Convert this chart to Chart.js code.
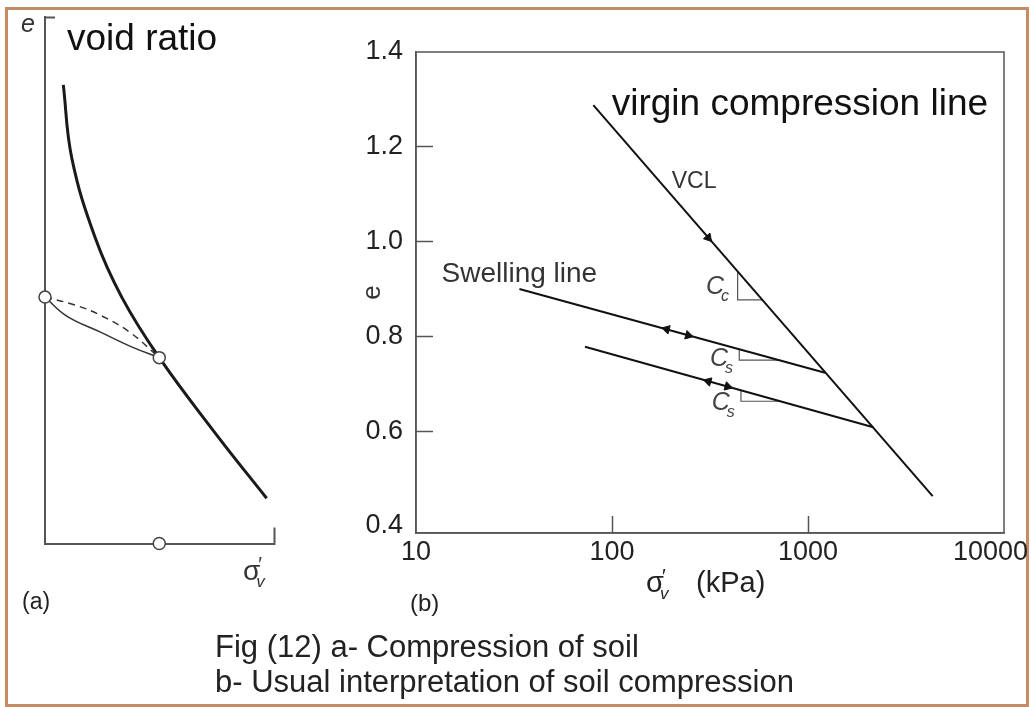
<!DOCTYPE html>
<html>
<head>
<meta charset="utf-8">
<title>Compression of soil</title>
<script src="https://cdn.jsdelivr.net/npm/chart.js@4.4.1/dist/chart.umd.min.js"></script>
<style>
  html, body { margin: 0; padding: 0; background: #fff; overflow: hidden; }
  body { width: 1031px; height: 707px; position: relative; font-family: "Liberation Sans", Arial, sans-serif; }
  #frame { position: absolute; left: 5px; top: 7px; width: 1024px; height: 700px; box-sizing: border-box; border: 3px solid #c48b65; }
  canvas { position: absolute; top: 0; }
  #chartA { left: 0; }
  #chartB { left: 330px; }
  .txt { position: absolute; white-space: nowrap; line-height: 1; color: #222; }
</style>
</head>
<body>
<div id="frame"></div>
<canvas id="chartA" width="330" height="707"></canvas>
<canvas id="chartB" width="701" height="707"></canvas>
<div class="txt" style="left:22px; top:590px; font-size:23px;">(a)</div>
<div class="txt" style="left:410px; top:591px; font-size:24px;">(b)</div>
<div class="txt" style="left:215px; top:631px; font-size:31px;">Fig (12) a- Compression of soil</div>
<div class="txt" style="left:215px; top:666px; font-size:31px;">b- Usual interpretation of soil compression</div>
<script>
// (a) schematic e - sigma'v, arbitrary units 0..1
const curveX = [0.080, 0.117, 0.218, 0.335, 0.499, 0.750, 0.968];
const curveY = [0.871, 0.732, 0.582, 0.468, 0.353, 0.206, 0.086];
const dashX = [0, 0.131, 0.240, 0.371, 0.499];
const dashY = [0.468, 0.453, 0.434, 0.401, 0.353];
const unloadX = [0, 0.095, 0.240, 0.386, 0.499];
const unloadY = [0.468, 0.432, 0.402, 0.372, 0.353];
const circleX = [0, 0.499, 0.499];
const circleY = [0.468, 0.353, 0];

// (b) e - log sigma'v (kPa)
const xTicks = [10, 100, 1000, 10000];
const yTicks = [0.4, 0.6, 0.8, 1.0, 1.2, 1.4];
const vclX = [80.3, 4325];
const vclY = [1.288, 0.463];
const swell1X = [33.7, 1221];
const swell1Y = [0.900, 0.723];
const swell2X = [72.8, 2154];
const swell2Y = [0.778, 0.608];
const arrowX = [310, 190, 245, 310, 389];
const arrowY = [1.008, 0.815, 0.802, 0.705, 0.694];
const arrowRot = [139, 285, 105, 286, 106];
const ccTriX = [437.5, 437.5, 585];
const ccTriY = [0.937, 0.877, 0.877];
const cs1TriX = [446, 446, 706];
const cs1TriY = [0.773, 0.750, 0.750];
const cs2TriX = [455, 455, 719];
const cs2TriY = [0.686, 0.663, 0.663];

const FAMILY = "'Liberation Sans', Arial, sans-serif";
Chart.defaults.font.family = FAMILY;
Chart.defaults.color = "#222";

const pts = (xs, ys) => xs.map((x, i) => ({ x, y: ys[i] }));
const hidden = "rgba(0,0,0,0)";

function sigmaV(ctx, x, y, size){
  ctx.font = size + "px " + FAMILY;
  ctx.fillText("σ", x, y);
  const w = ctx.measureText("σ").width;
  ctx.font = Math.round(size * 0.7) + "px " + FAMILY;
  ctx.fillText("′", x + w - 2, y - size * 0.32);
  ctx.font = "italic " + Math.round(size * 0.6) + "px " + FAMILY;
  ctx.fillText("v", x + w - 4, y + size * 0.25);
  return w;
}

function coef(ctx, sub, x, y){
  ctx.font = "italic 25px " + FAMILY;
  ctx.fillText("C", x, y);
  const w = ctx.measureText("C").width;
  ctx.font = "italic 16px " + FAMILY;
  ctx.fillText(sub, x + w - 3, y + 7);
}

const panelALabels = {
  id: "panelALabels",
  afterDraw(chart){
    const { ctx, chartArea: a } = chart;
    ctx.save();
    ctx.textBaseline = "alphabetic";
    ctx.fillStyle = "#333";
    ctx.font = "italic 25px " + FAMILY;
    ctx.fillText("e", a.left - 24, a.top + 15);
    ctx.fillStyle = "#111";
    ctx.font = "37px " + FAMILY;
    ctx.fillText("void ratio", a.left + 22, a.top + 33);
    ctx.fillStyle = "#333";
    sigmaV(ctx, a.right - 31, a.bottom + 36, 28);
    ctx.restore();
  }
};

const curveSet = (xs, ys, width, dash) => ({
  data: pts(xs, ys), showLine: true, borderColor: width > 2 ? "#1a1a1a" : "#333",
  borderWidth: width, borderDash: dash || [], pointRadius: 0, tension: 0.4,
});

new Chart(document.getElementById("chartA"), {
  type: "scatter",
  data: {
    datasets: [
      { data: pts(circleX, circleY), pointRadius: 6, pointBackgroundColor: "#fff", pointBorderColor: "#444", pointBorderWidth: 1.5, clip: false },
      curveSet(curveX, curveY, 3),
      curveSet(dashX, dashY, 1.5, [7, 5]),
      curveSet(unloadX, unloadY, 1.5),
    ]
  },
  options: {
    responsive: false,
    animation: false,
    devicePixelRatio: 1,
    events: [],
    layout: { padding: { left: 45, top: 17, right: 56, bottom: 163.5 } },
    plugins: { legend: { display: false }, tooltip: { enabled: false } },
    scales: {
      x: {
        type: "linear", min: 0, max: 1,
        afterBuildTicks: s => { s.ticks = [{ value: 1 }]; },
        afterFit: s => { s.height = 0; },
        ticks: { display: false },
        grid: { drawOnChartArea: false, tickLength: -16, tickColor: "#555", tickWidth: 2 },
        border: { color: "#555", width: 2 },
      },
      y: {
        type: "linear", min: 0, max: 1,
        afterBuildTicks: s => { s.ticks = [{ value: 1 }]; },
        afterFit: s => { s.width = 0; },
        ticks: { display: false },
        grid: { drawOnChartArea: false, tickLength: -10, tickColor: "#555", tickWidth: 2 },
        border: { color: "#555", width: 2 },
      },
    },
  },
  plugins: [panelALabels],
});

const panelBLabels = {
  id: "panelBLabels",
  afterDatasetsDraw(chart){
    const { ctx } = chart;
    const X = v => chart.scales.x.getPixelForValue(v);
    const Y = v => chart.scales.y.getPixelForValue(v);
    ctx.save();
    ctx.textBaseline = "alphabetic";
    ctx.fillStyle = "#111";
    ctx.font = "37px " + FAMILY;
    ctx.fillText("virgin compression line", X(99.7), Y(1.267));
    ctx.fillStyle = "#333";
    ctx.font = "23px " + FAMILY;
    ctx.fillText("VCL", X(201.7), Y(1.113));
    ctx.font = "28px " + FAMILY;
    ctx.fillText("Swelling line", X(13.5), Y(0.9145));
    ctx.fillStyle = "#444";
    coef(ctx, "c", X(301.8), Y(0.889));
    coef(ctx, "s", X(316), Y(0.737));
    coef(ctx, "s", X(322.6), Y(0.644));
    ctx.restore();
  },
  afterDraw(chart){
    const { ctx, chartArea: a } = chart;
    ctx.save();
    ctx.strokeStyle = "#555";
    ctx.lineWidth = 1.5;
    ctx.strokeRect(a.left, a.top, a.right - a.left, a.bottom - a.top);
    ctx.fillStyle = "#222";
    ctx.textBaseline = "alphabetic";
    const x0 = (a.left + a.right) / 2 - 64;
    sigmaV(ctx, x0, a.bottom + 59, 29);
    ctx.font = "29px " + FAMILY;
    ctx.fillText("(kPa)", x0 + 50, a.bottom + 59);
    ctx.restore();
  }
};

const lineSet = (xs, ys, color, width) => ({
  data: pts(xs, ys), showLine: true, borderColor: color, borderWidth: width, pointRadius: 0,
});

new Chart(document.getElementById("chartB"), {
  type: "scatter",
  data: {
    datasets: [
      { data: pts(arrowX, arrowY), pointStyle: "triangle", pointRadius: 5, pointRotation: arrowRot,
        pointBackgroundColor: "#111", pointBorderColor: "#111", pointBorderWidth: 1 },
      lineSet(vclX, vclY, "#111", 2),
      lineSet(swell1X, swell1Y, "#111", 2),
      lineSet(swell2X, swell2Y, "#111", 2),
      lineSet(ccTriX, ccTriY, "#555", 1.2),
      lineSet(cs1TriX, cs1TriY, "#555", 1.2),
      lineSet(cs2TriX, cs2TriY, "#555", 1.2),
    ]
  },
  options: {
    responsive: false,
    animation: false,
    devicePixelRatio: 1,
    events: [],
    layout: { padding: { left: 0, top: 52, right: 27, bottom: 134 } },
    plugins: { legend: { display: false }, tooltip: { enabled: false } },
    scales: {
      x: {
        type: "logarithmic", min: 10, max: 10000,
        afterBuildTicks: s => { s.ticks = xTicks.map(v => ({ value: v })); },
        afterFit: s => { s.height = 40; s.paddingLeft = 0; s.paddingRight = 0; },
        ticks: {
          // trailing spaces pull the last label back inside the frame, as in the figure
          callback: v => v === 10000 ? "10000\u2002\u2002" : String(v),
          autoSkip: false, maxRotation: 0, padding: 20,
          font: { size: 27 }, color: "#222",
        },
        grid: {
          drawOnChartArea: false, tickLength: -17, tickWidth: 1.5,
          tickColor: c => (c.tick && (c.tick.value === 10 || c.tick.value === 10000)) ? hidden : "#555",
        },
        border: { color: "#555", width: 1.5 },
      },
      y: {
        type: "linear", min: 0.385, max: 1.4,
        afterBuildTicks: s => { s.ticks = yTicks.map(v => ({ value: v })); },
        afterFit: s => { s.width = 86; },
        ticks: { callback: v => v.toFixed(1), padding: 30, font: { size: 27 }, color: "#222" },
        grid: {
          drawOnChartArea: false, tickLength: -17, tickWidth: 1.5,
          tickColor: c => (c.tick && (c.tick.value === 0.4 || c.tick.value === 1.4)) ? hidden : "#555",
        },
        border: { color: "#555", width: 1.5 },
        title: { display: true, text: "e", color: "#333", font: { size: 26 }, padding: { top: 27, bottom: 0 } },
      },
    },
  },
  plugins: [panelBLabels],
});
</script>
</body>
</html>
